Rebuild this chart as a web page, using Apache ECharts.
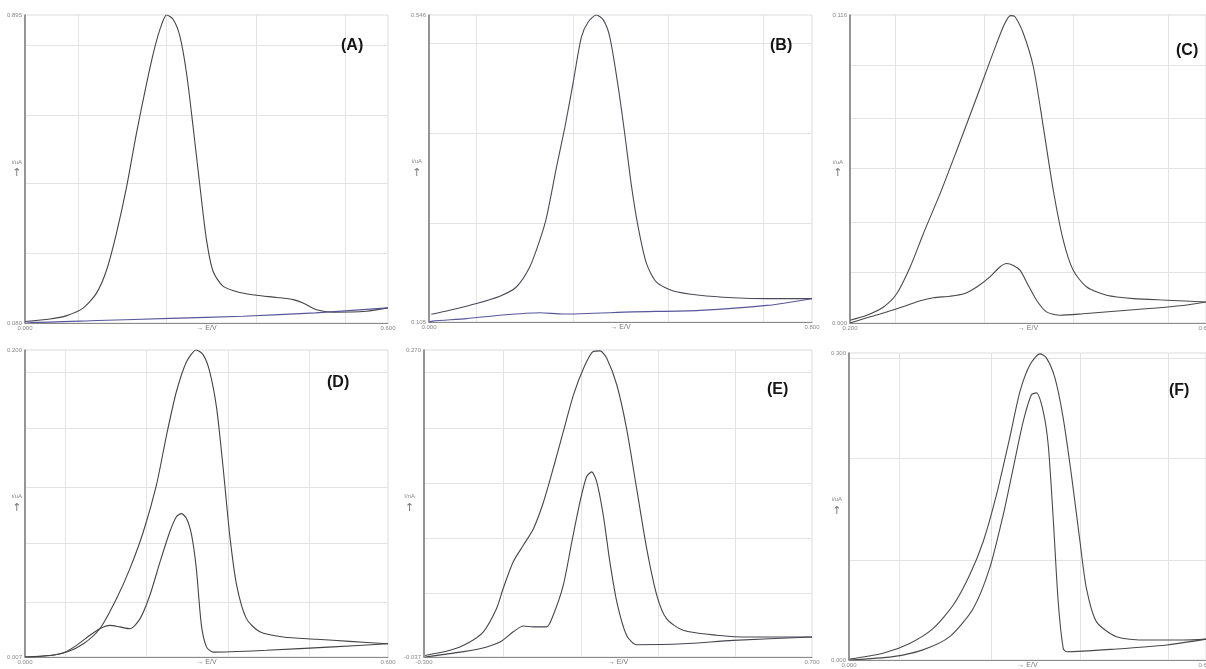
<!DOCTYPE html>
<html>
<head>
<meta charset="utf-8">
<script src="https://cdn.jsdelivr.net/npm/echarts@6/dist/echarts.min.js"></script>
<style>
html, body { margin: 0; padding: 0; background: #fff; }
#chart { width: 1206px; height: 669px; }
</style>
</head>
<body>
<div id="chart"></div>
<script>
// printed axis ranges of each frame [min, max]
var xRangeA = [0.000, 0.600], yRangeA = [0.080, 0.895];
var xRangeB = [0.000, 0.800], yRangeB = [0.105, 0.546];
var xRangeC = [0.200, 0.600], yRangeC = [0.000, 0.116];
var xRangeD = [0.000, 0.600], yRangeD = [0.007, 0.200];
var xRangeE = [-0.300, 0.700], yRangeE = [-0.037, 0.270];
var xRangeF = [0.000, 0.600], yRangeF = [0.000, 0.300];

// voltammograms, as [% of x range, % of y range]
var fwdA = [[0,0.5],[6.9,1.3],[11.5,2.4],[16.1,4.9],[19.7,9.7],[22.5,17.3],[25.2,29.2],[28.0,44.3],[30.7,61.6],[33.5,77.8],[35.8,89.7],[37.6,96.8],[39.0,100],[40.8,98.6],[42.7,93.0],[44.5,81.1],[46.3,63.8],[48.2,44.3],[50.0,27.0],[51.8,16.8],[54.6,11.9],[59.2,9.9],[63.8,9.0],[69.3,8.3],[73.9,7.6],[76.6,6.5],[80.3,4.3],[84.9,3.5],[94.0,3.8],[100,4.9]];
var revA = [[100,4.9],[80,3.3],[60,2.2],[40,1.5],[20,0.8],[2,0.2],[0,0.5]];

var fwdB = [[0.6,2.5],[5.4,3.8],[12.4,6.0],[18.5,8.4],[22.8,11.4],[26.3,17.9],[28.9,26.6],[30.7,34.2],[33.3,50.5],[35.5,63.6],[37.6,77.7],[39.8,92.9],[41.6,97.8],[43.7,100],[45.5,98.4],[47.2,92.9],[49.4,76.6],[51.1,61.4],[52.9,44.0],[54.6,31.0],[56.8,19.0],[59.4,13.0],[63.8,10.1],[70.7,8.7],[79.4,7.9],[88.2,7.6],[100,7.6]];
var revB = [[100,7.6],[88.2,5.4],[70.7,3.8],[53.3,3.3],[35,2.6],[28.9,3.0],[18.5,2.2],[9.8,1.1],[1.0,0.3],[0,0]];

var fwdC = [[0,0.9],[4.7,2.5],[9.4,5.2],[13.1,9.5],[16.9,18.2],[20.6,29.0],[25.3,42.0],[30.0,56.1],[34.6,70.2],[38.4,82.1],[41.2,90.8],[43.5,97.3],[45.1,99.8],[46.3,99.5],[48.7,94.0],[51.5,83.2],[54.3,63.7],[57.1,43.1],[59.9,26.9],[62.7,17.1],[66.5,11.7],[72.1,9.0],[79.6,7.9],[89.0,7.4],[100,6.8]];
var revC = [[100,6.8],[93.6,5.7],[79.6,4.3],[65.5,3.0],[59.0,2.5],[55.2,3.6],[52.4,7.4],[50.1,12.2],[47.8,17.1],[45.9,18.7],[44.0,19.3],[42.1,18.2],[39.3,15.0],[35.6,11.7],[32.0,9.5],[28.1,8.7],[23.4,8.2],[19.7,7.2],[15.9,5.7],[10.3,3.6],[4.7,1.7],[0,0]];

var fwdD = [[0,0],[6.9,0.5],[11.5,1.6],[16.1,4.3],[20.6,9.2],[25.2,19.0],[28.9,28.8],[32.6,40.8],[36.2,56.0],[39.0,72.3],[41.7,86.4],[44.5,96.2],[47.2,100],[49.1,98.4],[50.9,92.9],[52.8,81.0],[54.6,61.4],[56.4,39.7],[58.3,23.4],[61.0,12.5],[64.7,8.2],[71.1,6.5],[80.3,5.8],[89.4,5.1],[100,4.3]];
var revD = [[100,4.3],[84.9,3.3],[66.5,2.2],[51.8,1.6],[50.0,3.3],[48.6,10.3],[47.2,28.8],[45.9,39.7],[44.5,45.1],[43.1,46.7],[41.7,45.7],[39.9,40.8],[37.2,31.0],[34.4,20.1],[31.7,12.5],[28.9,9.2],[26.1,9.8],[23.4,10.3],[20.6,9.2],[17.9,7.1],[14.2,3.8],[10.6,1.4],[6.9,0.5],[0,0]];

var fwdE = [[0.3,0.5],[6.7,2.2],[11.0,4.3],[15.3,8.2],[18.7,15.8],[20.4,22.3],[23.0,31.0],[25.6,36.4],[28.2,41.8],[30.8,50.5],[33.3,61.4],[35.9,73.4],[38.5,85.3],[41.1,94.0],[43.6,99.5],[45.4,99.7],[47.1,97.3],[49.7,88.6],[52.2,74.5],[54.8,54.9],[57.4,35.3],[60.0,20.1],[62.5,12.5],[66.8,8.7],[75.4,7.1],[84.0,6.5],[100,6.5]];
var revE = [[100,6.5],[79.7,5.4],[66.8,4.3],[54.8,4.0],[52.2,7.1],[49.7,17.9],[47.9,31.0],[46.2,46.2],[44.5,57.1],[43.2,60.3],[41.9,58.7],[40.2,50.5],[38.1,37.5],[35.9,23.4],[33.3,13.6],[31.6,9.8],[28.2,9.8],[25.6,10.1],[23.0,8.2],[19.6,4.9],[14.4,2.7],[6.7,1.1],[0.3,0]];

var fwdF = [[0.2,0.3],[9.5,2.2],[17.0,5.4],[23.6,10.3],[29.2,17.9],[33.8,27.7],[37.6,38.6],[41.3,53.8],[45.0,72.3],[47.9,87.5],[50.7,96.2],[53.5,99.7],[55.3,98.4],[57.7,91.8],[60.0,78.8],[62.3,60.3],[64.7,38.6],[66.5,23.4],[69.3,12.5],[74.9,7.6],[84.3,6.5],[93.6,6.5],[100,6.8]];
var revF = [[100,6.8],[89.0,4.9],[75.0,3.6],[60.9,2.7],[60.0,3.8],[58.6,19.0],[57.2,46.2],[55.8,70.1],[54.4,81.0],[52.5,87.0],[51.1,86.4],[48.8,77.7],[46.0,62.5],[43.2,47.3],[39.4,29.9],[34.8,16.8],[28.2,7.6],[20.7,3.3],[12.3,1.1],[0.2,0]];

// grid line positions of each frame, % of range
var gridXA = [14.7, 39.0, 63.8, 88.1], gridYA = [22.7, 45.4, 67.6, 90.3];
var gridXB = [12.4, 37.6, 62.5, 87.4], gridYB = [32.1, 61.4, 90.8];
var gridXC = [12.6, 37.6, 62.7, 89.4], gridYC = [16.6, 32.8, 50.2, 66.4, 83.7];
var gridXD = [11.0, 33.5, 56.0, 78.4], gridYD = [17.9, 37.0, 55.4, 74.5, 92.9];
var gridXE = [20.4, 40.6, 60.4, 80.2], gridYE = [20.7, 38.6, 56.5, 74.5, 92.9];
var gridXF = [14.2, 39.9, 64.7, 89.4], gridYF = [32.6, 65.8, 98.4];

function toAxis(pts, xr, yr) {
	return pts.map(function (p) {
		return [xr[0] + p[0] / 100 * (xr[1] - xr[0]), yr[0] + p[1] / 100 * (yr[1] - yr[0])];
	});
}
function toVals(list, r) {
	return list.map(function (v) { return r[0] + v / 100 * (r[1] - r[0]); });
}

var panels = [
	{ tag: '(A)', xr: xRangeA, yr: yRangeA, curves: [fwdA, revA], gx: gridXA, gy: gridYA, yName: 'i/uA', yGap: 3,
	  pos: { left: 25, right: 818, top: 15, bottom: 346 }, colors: ['#454545', '#56569c'], tagAt: [336, 33] },
	{ tag: '(B)', xr: xRangeB, yr: yRangeB, curves: [fwdB, revB], gx: gridXB, gy: gridYB, yName: 'i/uA', yGap: 7,
	  pos: { left: 429, right: 394, top: 15, bottom: 347 }, colors: ['#4a4a5a', '#56569c'], tagAt: [765, 33] },
	{ tag: '(C)', xr: xRangeC, yr: yRangeC, curves: [fwdC, revC], gx: gridXC, gy: gridYC, yName: 'i/uA', yGap: 7,
	  pos: { left: 850, right: 0, top: 15, bottom: 346 }, colors: ['#4a4a4a', '#4a4a4a'], tagAt: [1171, 38] },
	{ tag: '(D)', xr: xRangeD, yr: yRangeD, curves: [fwdD, revD], gx: gridXD, gy: gridYD, yName: 'i/uA', yGap: 3,
	  pos: { left: 25, right: 818, top: 350, bottom: 12 }, colors: ['#444444', '#444444'], tagAt: [322, 370] },
	{ tag: '(E)', xr: xRangeE, yr: yRangeE, curves: [fwdE, revE], gx: gridXE, gy: gridYE, yName: 'I/nA', yGap: 9,
	  pos: { left: 424, right: 394, top: 350, bottom: 12 }, colors: ['#454550', '#454550'], tagAt: [762, 377] },
	{ tag: '(F)', xr: xRangeF, yr: yRangeF, curves: [fwdF, revF], gx: gridXF, gy: gridYF, yName: 'i/uA', yGap: 7,
	  pos: { left: 849, right: 0, top: 353, bottom: 9 }, colors: ['#4a4a4a', '#4a4a4a'], tagAt: [1164, 378] }
];

var grids = [], xAxes = [], yAxes = [], series = [], titles = [];
panels.forEach(function (p, i) {
	grids.push({ left: p.pos.left, right: p.pos.right, top: p.pos.top, bottom: p.pos.bottom,
		outerBoundsMode: 'none', containLabel: false,
		show: true, borderColor: '#dcdcdc', borderWidth: 1, backgroundColor: '#fff' });
	xAxes.push({
		type: 'value', gridIndex: i, min: p.xr[0], max: p.xr[1],
		name: '\u2192 E/V', nameLocation: 'middle', nameGap: 2, nameMoveOverlap: false,
		nameTextStyle: { fontSize: 7, color: '#777', fontFamily: 'Liberation Sans', verticalAlign: 'top' },
		axisLine: { show: true, onZero: false, lineStyle: { color: '#8a8a8a', width: 1 } },
		axisTick: { show: false, customValues: toVals(p.gx, p.xr) },
		axisLabel: { customValues: [p.xr[0], p.xr[1]], fontSize: 6, color: '#888', margin: 2,
			fontFamily: 'Liberation Sans', formatter: function (v) { return v.toFixed(3); } },
		splitLine: { show: true, lineStyle: { color: '#e3e3e3', width: 1 } }
	});
	yAxes.push({
		type: 'value', gridIndex: i, min: p.yr[0], max: p.yr[1],
		name: '{n|' + p.yName + '}\n{a|\u2191}', nameLocation: 'middle', nameRotate: 0,
		nameGap: p.yGap, nameMoveOverlap: false,
		nameTextStyle: { rich: {
			n: { fontSize: 6, color: '#888', fontFamily: 'Liberation Sans', align: 'center' },
			a: { fontSize: 11, color: '#777', fontFamily: 'DejaVu Sans', align: 'center', padding: [3, 0, 0, 0] }
		} },
		axisLine: { show: true, onZero: false, lineStyle: { color: '#777', width: 1.5 } },
		axisTick: { show: false, customValues: toVals(p.gy, p.yr) },
		axisLabel: { customValues: [p.yr[0], p.yr[1]], fontSize: 6, color: '#888', margin: 3,
			fontFamily: 'Liberation Sans', formatter: function (v) { return v.toFixed(3); } },
		splitLine: { show: true, lineStyle: { color: '#e3e3e3', width: 1 } }
	});
	p.curves.forEach(function (c, k) {
		series.push({
			type: 'line', xAxisIndex: i, yAxisIndex: i,
			data: toAxis(c, p.xr, p.yr),
			showSymbol: false, smooth: 0.25, animation: false,
			lineStyle: { color: p.colors[k], width: 1.1 }
		});
	});
	titles.push({ text: p.tag, left: p.tagAt[0], top: p.tagAt[1],
		textStyle: { fontSize: 16, fontWeight: 'bold', color: '#151515', fontFamily: 'Liberation Sans' } });
});

var chart = echarts.init(document.getElementById('chart'), null, { renderer: 'canvas' });
chart.setOption({
	backgroundColor: '#fff',
	animation: false,
	title: titles,
	grid: grids,
	xAxis: xAxes,
	yAxis: yAxes,
	series: series
});
</script>
</body>
</html>
